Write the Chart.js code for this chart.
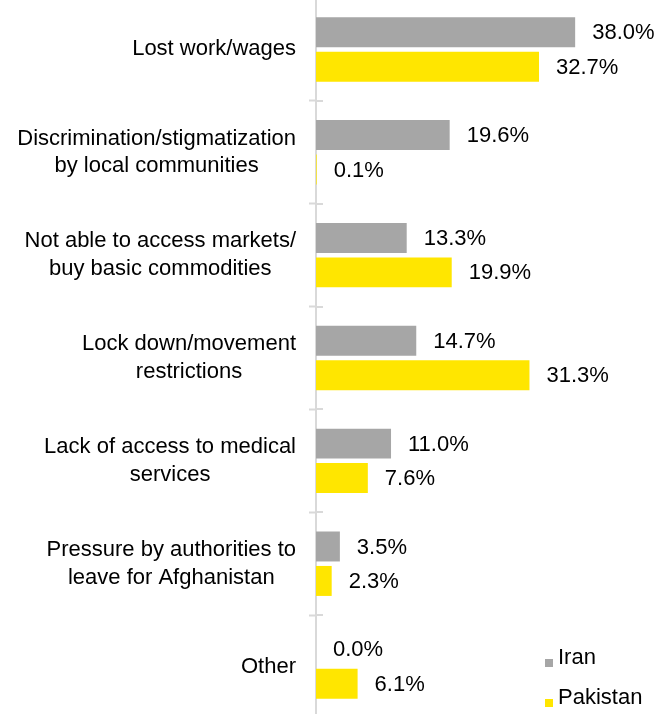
<!DOCTYPE html>
<html>
<head>
<meta charset="utf-8">
<script src="https://cdn.jsdelivr.net/npm/chart.js@4/dist/chart.umd.min.js"></script>
<style>
  body { margin: 0; background: #fff; overflow: hidden; font-family: "Liberation Sans", Arial, sans-serif; }
  #wrap { position: absolute; left: 0; top: -2px; width: 657px; height: 720px; }
  #legend { position: absolute; left: 545px; top: 642px; font-size: 22px; color: #000; }
  #legend div { position: relative; height: 40px; line-height: 30px; padding-left: 13px; }
  #legend span.box { position: absolute; left: 0; top: 17px; width: 8px; height: 8px; }
</style>
</head>
<body>
<div id="wrap"><canvas id="impactChart"></canvas></div>
<div id="legend"></div>
<script>
const categories = [
  'Lost work/wages',
  ['Discrimination/stigmatization', 'by local communities'],
  ['Not able to access markets/', 'buy basic commodities'],
  ['Lock down/movement', 'restrictions'],
  ['Lack of access to medical', 'services'],
  ['Pressure by authorities to', 'leave for Afghanistan'],
  'Other'
];
const seriesNames = ['Iran', 'Pakistan'];
const iranValues = [38.0, 19.6, 13.3, 14.7, 11.0, 3.5, 0.0];
const pakistanValues = [32.7, 0.1, 19.9, 31.3, 7.6, 2.3, 6.1];
const seriesColors = ['#a6a6a6', '#ffe600'];

const FONT = '"Liberation Sans", Arial, sans-serif';
const AXIS_GRAY = '#d9d9d9';

// value labels at the end of each bar
const valueLabels = {
  id: 'valueLabels',
  afterDatasetsDraw(chart) {
    const ctx = chart.ctx;
    ctx.save();
    ctx.font = '22px ' + FONT;
    ctx.fillStyle = '#000';
    ctx.textAlign = 'left';
    ctx.textBaseline = 'middle';
    chart.data.datasets.forEach((ds, i) => {
      chart.getDatasetMeta(i).data.forEach((bar, j) => {
        ctx.fillText(ds.data[j].toFixed(1) + '%', bar.x + 17, bar.y + 1);
      });
    });
    ctx.restore();
  }
};

// category labels: each block sits against the axis, its lines centred inside it
const categoryLabels = {
  id: 'categoryLabels',
  afterDraw(chart) {
    const y = chart.scales.y;
    const ctx = chart.ctx;
    const lineH = 27.5;
    ctx.save();
    ctx.font = '22px ' + FONT;
    ctx.fillStyle = '#000';
    ctx.textAlign = 'center';
    ctx.textBaseline = 'middle';
    categories.forEach((label, i) => {
      const lines = Array.isArray(label) ? label : [label];
      const w = Math.max(...lines.map(l => ctx.measureText(l).width));
      const cx = y.right - 20 - w / 2;
      const cy = y.getPixelForValue(i);
      lines.forEach((line, k) => {
        ctx.fillText(line, cx, cy + (k - (lines.length - 1) / 2) * lineH);
      });
    });
    ctx.restore();
  }
};

// tick marks cross the axis line, so draw the inner half too
const innerTicks = {
  id: 'innerTicks',
  afterDraw(chart) {
    const y = chart.scales.y;
    const ctx = chart.ctx;
    ctx.save();
    ctx.strokeStyle = AXIS_GRAY;
    ctx.lineWidth = 2;
    for (let i = 0; i <= categories.length; i++) {
      const py = Math.round(y.getPixelForValue(i - 0.5));
      ctx.beginPath();
      ctx.moveTo(y.right, py);
      ctx.lineTo(y.right + 7, py);
      ctx.stroke();
    }
    ctx.restore();
  }
};

new Chart(document.getElementById('impactChart'), {
  type: 'bar',
  data: {
    labels: categories,
    datasets: [
      { label: seriesNames[0], data: iranValues, backgroundColor: seriesColors[0] },
      { label: seriesNames[1], data: pakistanValues, backgroundColor: seriesColors[1] }
    ]
  },
  options: {
    indexAxis: 'y',
    responsive: true,
    maintainAspectRatio: false,
    animation: false,
    layout: { padding: 0 },
    datasets: {
      bar: { categoryPercentage: 0.67, barPercentage: 0.87 }
    },
    scales: {
      x: { display: false, min: 0, max: 50 },
      y: {
        z: 1,
        afterFit(scale) {
          scale.width = 316;
          scale.paddingTop = 0;
          scale.paddingBottom = 0;
        },
        border: { color: AXIS_GRAY, width: 2 },
        grid: {
          offset: true,
          drawOnChartArea: false,
          tickLength: 7,
          tickWidth: 2,
          tickColor: AXIS_GRAY
        },
        ticks: { display: false }
      }
    },
    plugins: {
      legend: { display: false },
      tooltip: { enabled: false }
    }
  },
  plugins: [valueLabels, categoryLabels, innerTicks]
});

// legend
const legend = document.getElementById('legend');
seriesNames.forEach((name, i) => {
  const row = document.createElement('div');
  row.innerHTML = '<span class="box" style="background:' + seriesColors[i] + '"></span>' + name;
  legend.appendChild(row);
});
</script>
</body>
</html>
